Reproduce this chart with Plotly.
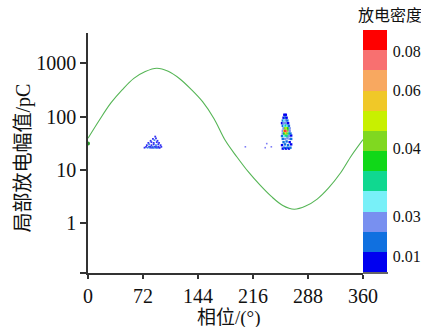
import plotly.graph_objects as go

# ---- data ----
curve_phase = [0, 15, 30, 45, 60, 75, 90, 105, 120, 135, 150, 165, 180,
               195, 210, 225, 240, 255, 270, 285, 300, 315, 330, 345, 360]
curve_amp = [39, 86, 180, 320, 520, 700, 807, 708, 513, 324, 190, 91, 35,
             17.4, 9.1, 5.2, 3.16, 2.14, 1.82, 2.09, 2.82, 4.57, 8.5, 18.6, 37]

left_phase = [74, 76, 78, 80, 81, 82, 83, 84, 85, 86, 87, 88, 89, 90, 91, 92, 93, 94, 96,
              77, 80, 83, 86, 89, 92, 95, 79, 83, 86, 90, 93, 82, 87, 91, 85, 89, 88]
left_amp = [26, 27, 26, 27, 26, 27, 26, 27, 26, 26, 27, 26, 27, 26, 26, 27, 26, 26, 27,
            29, 30, 29, 30, 29, 30, 29, 32, 33, 32, 33, 32, 35, 36, 35, 38, 39, 42]
left_dens = [0.004, 0.006, 0.009, 0.004, 0.011, 0.006, 0.004, 0.010, 0.005, 0.012, 0.004, 0.009,
             0.005, 0.004, 0.010, 0.004, 0.006, 0.004, 0.004,
             0.004, 0.009, 0.004, 0.005, 0.010, 0.004, 0.004, 0.004, 0.006, 0.004, 0.004, 0.004,
             0.004, 0.009, 0.004, 0.004, 0.004, 0.004]

right_phase = [255, 257, 259, 261, 263, 265,
               254, 258, 262, 266,
               256, 260, 264,
               255, 258, 261, 264, 266,
               254, 257, 259, 261, 263, 266,
               255, 257, 259, 261, 263, 265,
               255, 257, 258.6, 260, 262, 264,
               256, 258, 260, 262, 264,
               255, 257, 259, 261, 263,
               254, 256, 258, 260, 262,
               255, 257, 259, 261,
               256, 258, 260,
               257, 259]
right_amp = [25, 26, 25, 26, 25, 26,
             29, 30, 29, 30,
             33, 34, 33,
             38, 38, 39, 38, 38,
             43, 43, 44, 43, 43, 44,
             48, 48, 49, 48, 48, 48,
             54, 54, 54, 54, 55, 54,
             60, 60, 61, 60, 60,
             67, 67, 68, 67, 67,
             75, 75, 76, 75, 75,
             84, 84, 85, 84,
             95, 96, 95,
             108, 108]
right_dens = [0.005, 0.010, 0.006, 0.012, 0.005, 0.009,
              0.004, 0.010, 0.012, 0.004,
              0.008, 0.012, 0.005,
              0.012, 0.018, 0.022, 0.016, 0.008,
              0.010, 0.026, 0.032, 0.030, 0.020, 0.006,
              0.016, 0.040, 0.060, 0.052, 0.030, 0.010,
              0.020, 0.062, 0.088, 0.076, 0.045, 0.016,
              0.015, 0.046, 0.058, 0.040, 0.018,
              0.010, 0.026, 0.034, 0.024, 0.010,
              0.005, 0.018, 0.022, 0.016, 0.006,
              0.012, 0.024, 0.018, 0.008,
              0.005, 0.010, 0.004,
              0.004, 0.004]

stray_phase = [206, 232, 234, 240]
stray_amp = [27, 26, 31, 27]
stray_dens = [0.004, 0.004, 0.004, 0.004]

cb_ticktext = ["0.08", "0.06", "0.04", "0.03", "0.01"]
band_colors = ["#0000f0", "#1070e0", "#7890f0", "#78f0f8", "#10d890", "#10d818",
               "#80d820", "#c8f000", "#f0c828", "#f8a860", "#f87070", "#ff0000"]

# ---- figure ----
FONT = "Liberation Serif, Times New Roman, Noto Sans CJK SC"
ZMAX = 0.09
n = len(band_colors)
cscale = []
for i, c in enumerate(band_colors):
    cscale.append([i / n, c])
    cscale.append([(i + 1) / n, c])

L, R, T, B = 88, 58, 33, 54
PW = 421 - L - R
PH = 327 - T - B


def px(xp):
    return (xp - L) / PW


def py(yp):
    return (327 - B - yp) / PH


fig = go.Figure()
fig.add_trace(go.Scatter(x=curve_phase, y=curve_amp, mode="lines",
                         line=dict(color="#55b555", width=1.1, shape="spline", smoothing=1.0),
                         hoverinfo="skip", showlegend=False))
fig.add_trace(go.Scatter(x=[0], y=[31], mode="markers",
                         marker=dict(color="#2a9a2a", size=4), showlegend=False))

fig.add_trace(go.Scatter(
    x=stray_phase, y=stray_amp, mode="markers", showlegend=False, opacity=0.5,
    marker=dict(symbol="square", size=1.6, color=stray_dens, cmin=0, cmax=ZMAX,
                colorscale=cscale, line=dict(width=0))))
fig.add_trace(go.Scatter(
    x=left_phase, y=left_amp, mode="markers", showlegend=False, opacity=0.8,
    marker=dict(symbol="square", size=1.8, color=left_dens, cmin=0, cmax=ZMAX,
                colorscale=cscale, line=dict(width=0))))
fig.add_trace(go.Scatter(
    x=right_phase, y=right_amp, mode="markers", showlegend=False,
    marker=dict(symbol="square", size=2.4, color=right_dens, cmin=0, cmax=ZMAX,
                colorscale=cscale, line=dict(width=0),
                colorbar=dict(
                    x=px(362.7), xanchor="left", xpad=0,
                    y=py(151), yanchor="middle", ypad=0,
                    len=242, lenmode="pixels", thickness=24,
                    outlinewidth=0, ticks="outside", ticklen=3,
                    tickcolor="rgba(0,0,0,0)",
                    tickvals=[0.91 * ZMAX, 0.752 * ZMAX, 0.512 * ZMAX, 0.231 * ZMAX, 0.066 * ZMAX],
                    ticktext=cb_ticktext,
                    tickfont=dict(family=FONT, size=16, color="#111"),
                ))))

fig.update_layout(
    width=421, height=327,
    margin=dict(l=L, r=R, t=T, b=B, autoexpand=False),
    paper_bgcolor="white", plot_bgcolor="white",
    font=dict(family=FONT, color="#111"),
    xaxis=dict(range=[0, 360], tickvals=[0, 72, 144, 216, 288, 360],
               showgrid=False, zeroline=False, showline=True, linecolor="#333",
               linewidth=1.5, ticks="outside", ticklen=4, tickcolor="#333",
               tickwidth=1.5, tickfont=dict(size=20, family=FONT)),
    yaxis=dict(type="log", range=[-0.9375, 3.568],
               tickvals=[10 ** -0.9375, 1, 10, 100, 1000],
               ticktext=["", "1", "10", "100", "1000"],
               showgrid=False, zeroline=False, showline=True, linecolor="#333",
               linewidth=1.5, ticks="outside", ticklen=6, tickcolor="#333",
               tickwidth=1.5, tickfont=dict(size=20, family=FONT)),
    shapes=[dict(type="line", xref="paper", yref="paper",
                 x0=1.0, x1=px(388), y0=0, y1=0,
                 line=dict(color="#333", width=1.5))],
    annotations=[
        dict(text="局部放电幅值/pC", xref="paper", yref="paper",
             x=px(23), y=py(158.5), textangle=-90,
             xanchor="center", yanchor="middle",
             showarrow=False, font=dict(size=20, family=FONT)),
        dict(text="相位/(°)", xref="paper", yref="paper",
             x=px(228.5), y=py(318),
             xanchor="center", yanchor="middle",
             showarrow=False, font=dict(size=19, family=FONT)),
        dict(text="放电密度", xref="paper", yref="paper",
             x=px(390), y=py(15),
             xanchor="center", yanchor="middle",
             showarrow=False, font=dict(size=16, family=FONT)),
    ],
)

fig.write_html("out.html")
